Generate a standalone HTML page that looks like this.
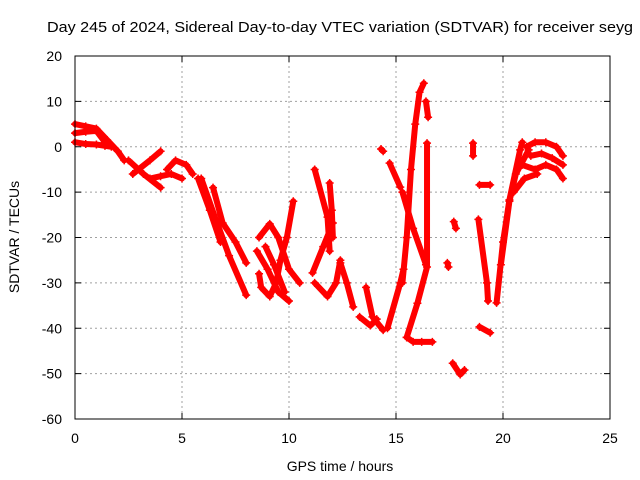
<!DOCTYPE html>
<html><head><meta charset="utf-8"><style>
body{margin:0;background:#fff}
svg{display:block;font-family:"Liberation Sans",sans-serif}
</style></head><body>
<svg id="chart" width="640" height="480" viewBox="0 0 640 480" xmlns="http://www.w3.org/2000/svg">
<rect width="640" height="480" fill="#fff"/>
<text x="47" y="32" font-size="15" textLength="586" lengthAdjust="spacingAndGlyphs">Day 245 of 2024, Sidereal Day-to-day VTEC variation (SDTVAR) for receiver seyg</text>
<g id="grid"></g>
<g id="ticks"></g>
<g id="marks"></g>
<rect x="75" y="56" width="535" height="363" fill="none" stroke="#000" stroke-width="1"/>
<text x="340" y="471" font-size="14" text-anchor="middle">GPS time / hours</text>
<text x="0" y="0" font-size="14" text-anchor="middle" transform="translate(19,237) rotate(-90)">SDTVAR / TECUs</text>
</svg>
<script>
const xTicks = [0,5,10,15,20,25];
const yTicks = [-60,-50,-40,-30,-20,-10,0,10,20];
const seriesT = [
 [0,0.5,1,1.5,2,2.3],
 [0,0.5,1,1.4,1.7],
 [0,0.5,1,1.4],
 [2.5,3.2,4],
 [2.7,3.5,4],
 [3.5,4,4.5,5],
 [4.3,4.7,5.2,5.5],
 [5.75,6.3,6.8],
 [5.9,6.5,7.2,8.0],
 [6.45,6.9,7.5,8.0],
 [8.6,9.1,9.5,10,10.5],
 [8.5,9,9.5,10],
 [8.6,8.7,9.1,9.4,9.6,9.9,10.2],
 [8.9,9.3,9.8],
 [11.2,11.8,11.9],
 [11.9,12.0,12.05],
 [11.1,11.6,12.05],
 [11.2,11.8,12.2,12.4],
 [12.4,12.7,13.0],
 [13.6,13.9,14.4],
 [13.3,13.8,14.1],
 [14.3,14.4],
 [14.7,15.2],
 [14.6,15.2,15.35],
 [15.3,15.5,15.7,15.9,16.1,16.3],
 [15.3,15.8,16.4],
 [15.5,16.0,16.45,16.45],
 [16.4,16.5],
 [15.5,15.8,16.2,16.7],
 [17.4,17.45],
 [17.7,17.8],
 [17.65,18.0,18.2],
 [18.6,18.6],
 [18.9,19.4],
 [18.85,19.25,19.3],
 [18.9,19.4],
 [19.7,20.0,20.3,20.8,20.9],
 [19.9,20.3,20.6,21.2],
 [21.1,21.5,22,22.5,22.8],
 [21.3,21.8,22.3,22.8],
 [20.9,21.5,22,22.5,22.8],
 [20.5,21,21.6]
];
const seriesV = [
 [5,4.5,4,1.5,-1,-3],
 [1,0.6,0.5,0.2,0],
 [3,3.3,3.5,1],
 [-3,-6,-9],
 [-6,-3,-1],
 [-7,-6.5,-6,-7],
 [-5,-3,-4,-6],
 [-7,-14,-21],
 [-7,-15,-24,-32.7],
 [-9,-16.8,-21,-25.6],
 [-20,-17,-20,-27,-30],
 [-23,-27,-32,-34],
 [-28,-31,-33,-30,-25,-20,-12],
 [-22,-26,-32],
 [-5,-15.5,-23],
 [-8,-14,-20],
 [-27.8,-22,-16.8],
 [-30,-33,-30,-25],
 [-25.6,-30,-35.3],
 [-31,-37.5,-40.4],
 [-37.5,-39.4,-38],
 [-0.5,-1],
 [-3.6,-8.9],
 [-40,-30,-27],
 [-30,-20,-5,5,12,14],
 [-10,-18,-26],
 [-42,-34.5,-26.5,0.8],
 [10,6.5],
 [-42,-43,-43,-43],
 [-25.6,-26.5],
 [-16.5,-18],
 [-47.7,-50.2,-49.2],
 [0.8,-2],
 [-8.4,-8.4],
 [-16,-30,-34],
 [-39.7,-41],
 [-34.4,-21,-11.7,-0.7,1],
 [-26,-12,-6,-0.7],
 [0,1,1,0,-2],
 [-2,-1.5,-2.5,-4],
 [-4,-5,-4,-5,-7],
 [-10,-7,-6]
];
const NS='http://www.w3.org/2000/svg';
const X0=75,X1=610,Y0=419,Y1=56;
function xs(t){return X0+(t-0)/(25-0)*(X1-X0);}
function ys(v){return Y0-(v+60)/80*(Y0-Y1);}
const grid=document.getElementById('grid'),ticks=document.getElementById('ticks'),marks=document.getElementById('marks');
function mk(tag,attrs,parent){const e=document.createElementNS(NS,tag);for(const k in attrs)e.setAttribute(k,attrs[k]);parent.appendChild(e);return e;}
xTicks.forEach(t=>{
 const x=xs(t);
 if(t>0&&t<25){const g=mk('line',{x1:x,x2:x,y1:Y1,y2:Y0,stroke:'#a0a0a0','stroke-dasharray':'2,3'},grid);
 
 }
 mk('line',{x1:x,x2:x,y1:Y0,y2:Y0-6,stroke:'#000'},ticks);
 mk('line',{x1:x,x2:x,y1:Y1,y2:Y1+6,stroke:'#000'},ticks);
 const l=mk('text',{x:x,y:443,'font-size':14,'text-anchor':'middle'},ticks);
 
 
 l.textContent=t;
});
yTicks.forEach(v=>{
 const y=ys(v);
 if(v>-60&&v<20){const g=mk('line',{x1:X0,x2:X1,y1:y,y2:y,stroke:'#a0a0a0','stroke-dasharray':'2,3'},grid);
 
 }
 mk('line',{x1:X0,x2:X0+6,y1:y,y2:y,stroke:'#000'},ticks);
 mk('line',{x1:X1,x2:X1-6,y1:y,y2:y,stroke:'#000'},ticks);
 const l=mk('text',{x:62,y:y+5,'font-size':14,'text-anchor':'end'},ticks);
 
 
 l.textContent=v;
});
seriesT.forEach((ts,i)=>{
 const vs=seriesV[i];
 const pts=ts.map((t,j)=>xs(t)+','+ys(vs[j])).join(' ');
 const pl=mk('polyline',{points:pts,fill:'none',stroke:'#ff0000','stroke-width':6,'stroke-linejoin':'round','stroke-linecap':'round'},marks);
 
 
 ts.forEach((t,j)=>{
  const x=xs(t),y=ys(vs[j]);
  const p=mk('path',{d:`M${x-4},${y}H${x+4}M${x},${y-4}V${y+4}`,stroke:'#ff0000','stroke-width':1.5},marks);
  
  
 });
});
</script>
</body></html>
